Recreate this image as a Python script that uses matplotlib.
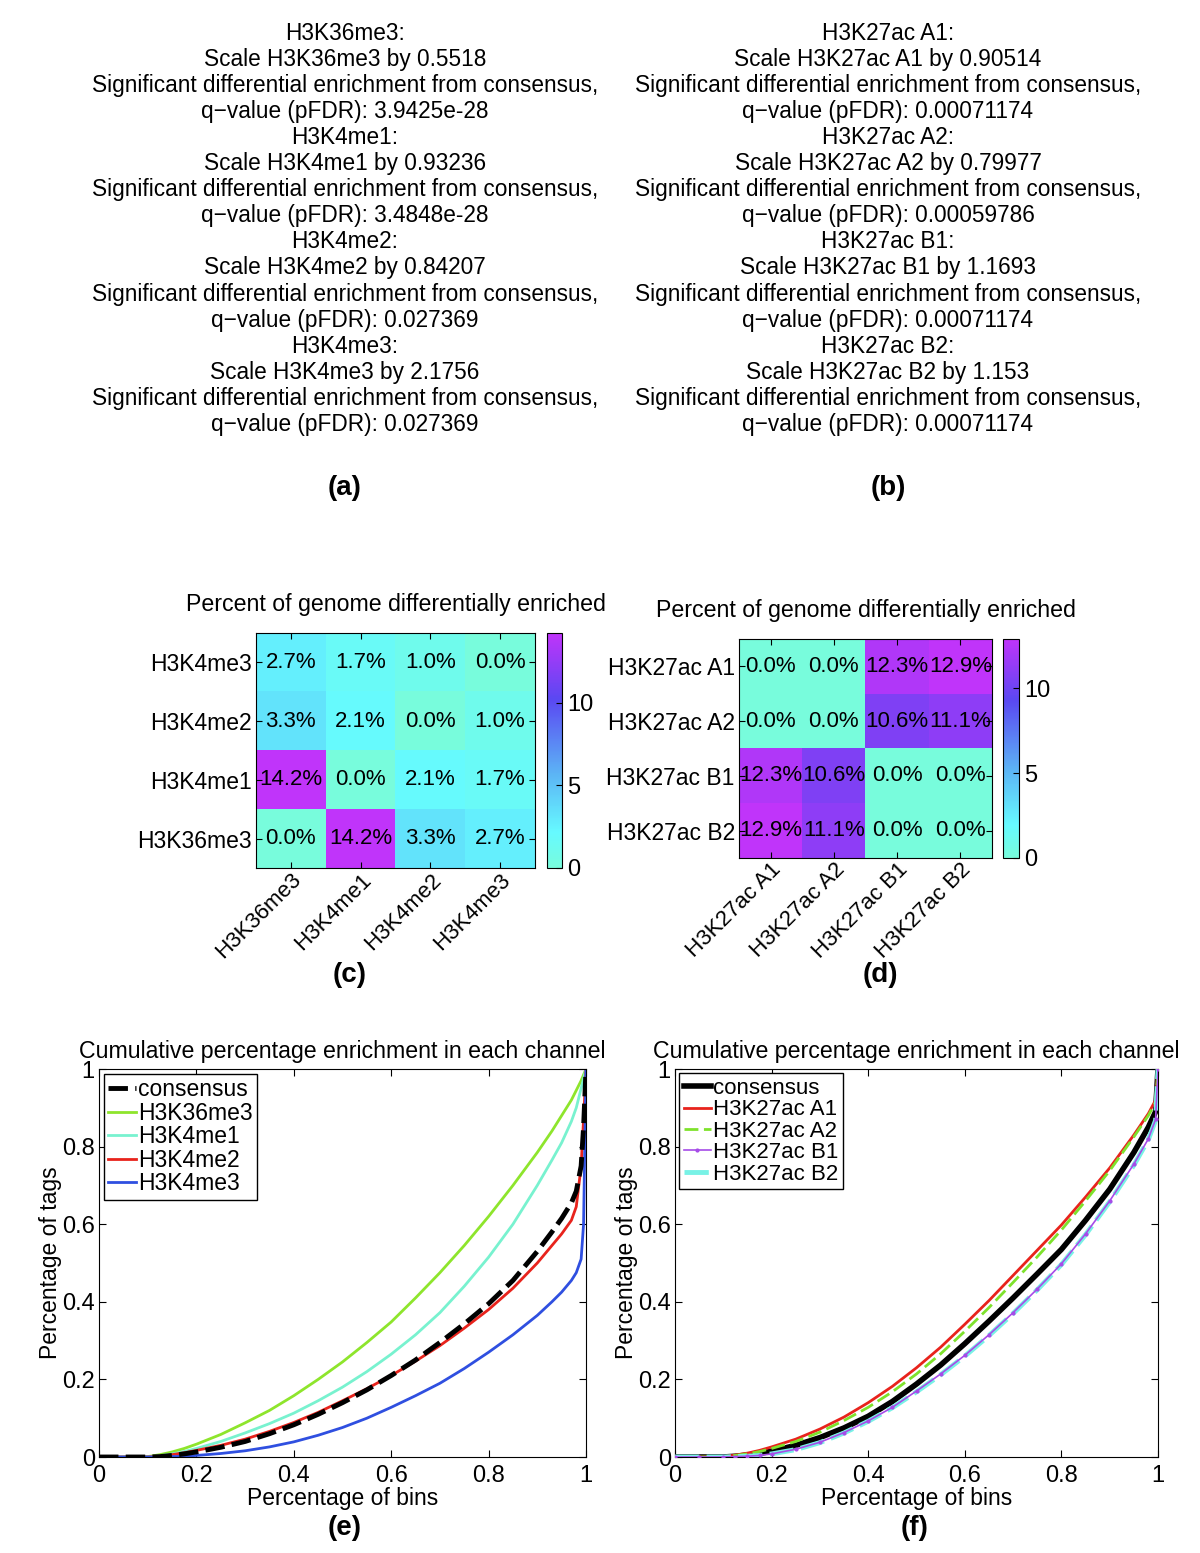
import numpy as np
import matplotlib
matplotlib.use('Agg')
import matplotlib.pyplot as plt
from matplotlib.colors import LinearSegmentedColormap

plt.rcParams['font.family'] = ['Liberation Sans', 'DejaVu Sans']

W, H = 1200, 1553

# ---- text panels (a), (b) ----
text_a = [
    'H3K36me3:', 'Scale H3K36me3 by 0.5518',
    'Significant differential enrichment from consensus,', 'q\u2212value (pFDR): 3.9425e-28',
    'H3K4me1:', 'Scale H3K4me1 by 0.93236',
    'Significant differential enrichment from consensus,', 'q\u2212value (pFDR): 3.4848e-28',
    'H3K4me2:', 'Scale H3K4me2 by 0.84207',
    'Significant differential enrichment from consensus,', 'q\u2212value (pFDR): 0.027369',
    'H3K4me3:', 'Scale H3K4me3 by 2.1756',
    'Significant differential enrichment from consensus,', 'q\u2212value (pFDR): 0.027369',
]
text_b = [
    'H3K27ac A1:', 'Scale H3K27ac A1 by 0.90514',
    'Significant differential enrichment from consensus,', 'q\u2212value (pFDR): 0.00071174',
    'H3K27ac A2:', 'Scale H3K27ac A2 by 0.79977',
    'Significant differential enrichment from consensus,', 'q\u2212value (pFDR): 0.00059786',
    'H3K27ac B1:', 'Scale H3K27ac B1 by 1.1693',
    'Significant differential enrichment from consensus,', 'q\u2212value (pFDR): 0.00071174',
    'H3K27ac B2:', 'Scale H3K27ac B2 by 1.153',
    'Significant differential enrichment from consensus,', 'q\u2212value (pFDR): 0.00071174',
]

# ---- heatmaps (c), (d) ----
c_labels = ['H3K36me3', 'H3K4me1', 'H3K4me2', 'H3K4me3']
c_rows_top_down = ['H3K4me3', 'H3K4me2', 'H3K4me1', 'H3K36me3']
c_vals = [  # rows as displayed (top->bottom), cols as c_labels
    [2.7, 1.7, 1.0, 0.0],
    [3.3, 2.1, 0.0, 1.0],
    [14.2, 0.0, 2.1, 1.7],
    [0.0, 14.2, 3.3, 2.7],
]
d_labels = ['H3K27ac A1', 'H3K27ac A2', 'H3K27ac B1', 'H3K27ac B2']
d_vals = [
    [0.0, 0.0, 12.3, 12.9],
    [0.0, 0.0, 10.6, 11.1],
    [12.3, 10.6, 0.0, 0.0],
    [12.9, 11.1, 0.0, 0.0],
]

# ---- cumulative curves (e) ----
x_e = [0, 0.05, 0.1, 0.125, 0.15, 0.175, 0.2, 0.25, 0.3, 0.35, 0.4, 0.45, 0.5, 0.55, 0.6,
       0.65, 0.7, 0.75, 0.8, 0.85, 0.9, 0.93, 0.95, 0.97, 0.98, 0.99, 0.995, 1.0]
e_consensus = [0, 0, 0, 0.001, 0.004, 0.008, 0.013, 0.025, 0.04, 0.06, 0.083, 0.11, 0.14, 0.173,
               0.21, 0.25, 0.295, 0.343, 0.395, 0.455, 0.53, 0.58, 0.615, 0.655, 0.685, 0.75, 0.85, 1.0]
e_k36me3 = [0, 0, 0.001, 0.006, 0.013, 0.022, 0.033, 0.058, 0.088, 0.12, 0.158, 0.2, 0.245, 0.295,
            0.348, 0.41, 0.475, 0.545, 0.62, 0.70, 0.785, 0.84, 0.88, 0.92, 0.945, 0.97, 0.985, 1.0]
e_k4me1 = [0, 0, 0, 0.003, 0.008, 0.014, 0.022, 0.04, 0.062, 0.086, 0.113, 0.145, 0.18, 0.22,
           0.265, 0.315, 0.372, 0.44, 0.515, 0.60, 0.70, 0.765, 0.81, 0.865, 0.9, 0.95, 0.975, 1.0]
e_k4me2 = [0, 0, 0, 0.002, 0.006, 0.011, 0.017, 0.03, 0.046, 0.066, 0.089, 0.115, 0.145, 0.176,
           0.21, 0.247, 0.287, 0.332, 0.38, 0.435, 0.5, 0.545, 0.575, 0.61, 0.645, 0.75, 0.87, 1.0]
e_k4me3 = [0, 0, 0, 0, 0.001, 0.002, 0.004, 0.009, 0.016, 0.026, 0.039, 0.056, 0.076, 0.1,
           0.128, 0.158, 0.19, 0.228, 0.27, 0.315, 0.365, 0.4, 0.425, 0.455, 0.475, 0.51, 0.6, 1.0]

# ---- cumulative curves (f) ----
x_f = [0, 0.05, 0.1, 0.125, 0.15, 0.175, 0.2, 0.25, 0.3, 0.35, 0.4, 0.45, 0.5, 0.55, 0.6,
       0.65, 0.7, 0.75, 0.8, 0.85, 0.9, 0.95, 0.98, 0.995, 1.0]
f_consensus = [0, 0, 0, 0.002, 0.005, 0.009, 0.015, 0.03, 0.05, 0.075, 0.105, 0.143, 0.188, 0.237,
               0.292, 0.35, 0.41, 0.472, 0.535, 0.61, 0.69, 0.785, 0.85, 0.89, 1.0]
f_a1 = [0, 0, 0.001, 0.005, 0.01, 0.017, 0.026, 0.046, 0.072, 0.103, 0.14, 0.182, 0.23, 0.283,
        0.342, 0.403, 0.468, 0.533, 0.598, 0.67, 0.745, 0.83, 0.885, 0.92, 1.0]
f_a2 = [0, 0, 0.001, 0.004, 0.008, 0.014, 0.022, 0.04, 0.064, 0.094, 0.128, 0.168, 0.214, 0.266,
        0.324, 0.385, 0.45, 0.516, 0.585, 0.66, 0.738, 0.825, 0.88, 0.915, 1.0]
f_b1 = [0, 0, 0, 0.001, 0.002, 0.004, 0.008, 0.02, 0.038, 0.063, 0.093, 0.128, 0.17, 0.214,
        0.262, 0.315, 0.372, 0.433, 0.498, 0.575, 0.66, 0.755, 0.82, 0.87, 1.0]
f_b2 = [0, 0, 0, 0.001, 0.002, 0.004, 0.008, 0.019, 0.037, 0.062, 0.092, 0.127, 0.168, 0.212,
        0.26, 0.313, 0.37, 0.431, 0.496, 0.573, 0.658, 0.752, 0.818, 0.868, 1.0]

tick_vals = [0, 0.2, 0.4, 0.6, 0.8, 1]
tick_labels = ['0', '0.2', '0.4', '0.6', '0.8', '1']

cmap = LinearSegmentedColormap.from_list('cyanpurple', [
    (0.0, '#78fcdc'), (0.15, '#66faff'), (0.4, '#5cb4f5'),
    (0.72, '#5a48f2'), (1.0, '#c034fa')])


def rect(x0, y0, x1, y1):
    # pixel box (top-left origin) -> figure fraction
    return [x0 / W, 1 - y1 / H, (x1 - x0) / W, (y1 - y0) / H]


fig = plt.figure(figsize=(W / 100, H / 100), dpi=100)


def ftext(x, y, s, **kw):
    fig.text(x / W, 1 - y / H, s, ha='center', va='center', **kw)


# text blocks
for i, line in enumerate(text_a):
    ftext(345, 33 + i * 26.1, line, fontsize=16.3)
for i, line in enumerate(text_b):
    ftext(888, 33 + i * 26.1, line, fontsize=16.3)
ftext(345, 488, '(a)', fontsize=20, fontweight='bold')
ftext(888, 488, '(b)', fontsize=20, fontweight='bold')


def heatmap(box, cbox, vals, ylabels, xlabels):
    ax = fig.add_axes(rect(*box))
    m = np.array(vals)
    im = ax.imshow(m, cmap=cmap, vmin=0, vmax=m.max(), aspect='auto',
                   interpolation='nearest')
    for r in range(m.shape[0]):
        for c in range(m.shape[1]):
            ax.text(c, r, f'{m[r, c]:.1f}%', ha='center', va='center', fontsize=16)
    ax.set_xticks(range(len(xlabels)))
    ax.set_xticklabels(xlabels, rotation=45, ha='right', rotation_mode='anchor', fontsize=16)
    ax.set_yticks(range(len(ylabels)))
    ax.set_yticklabels(ylabels, fontsize=16.5)
    ax.tick_params(direction='in', length=4, top=True, right=True, pad=3)
    ax.tick_params(axis='x', pad=1)
    ax.set_title('Percent of genome differentially enriched', fontsize=16.7, pad=16)
    cax = fig.add_axes(rect(*cbox))
    cb = fig.colorbar(im, cax=cax, ticks=[0, 5, 10])
    cb.ax.tick_params(direction='in', length=4, labelsize=17)
    cb.outline.set_linewidth(0.8)
    return ax


heatmap((256, 633, 535, 868), (547, 633, 562, 868), c_vals, c_rows_top_down, c_labels)
heatmap((739, 639, 992, 858), (1003, 639, 1019, 858), d_vals, d_labels, d_labels)
ftext(350, 975, '(c)', fontsize=20, fontweight='bold')
ftext(880, 975, '(d)', fontsize=20, fontweight='bold')


def curves(box, series, legsize):
    ax = fig.add_axes(rect(*box))
    for xs, ys, lab, kw in series:
        ax.plot(xs, ys, label=lab, **kw)
    ax.set_xlim(0, 1)
    ax.set_ylim(0, 1)
    ax.set_xticks(tick_vals)
    ax.set_xticklabels(tick_labels, fontsize=17)
    ax.set_yticks(tick_vals)
    ax.set_yticklabels(tick_labels, fontsize=17)
    ax.tick_params(direction='in', length=5, top=True, right=True)
    ax.tick_params(axis='x', pad=6)
    ax.tick_params(axis='y', pad=3)
    ax.set_xlabel('Percentage of bins', fontsize=16.5, labelpad=0)
    ax.set_ylabel('Percentage of tags', fontsize=16.5, labelpad=0)
    ax.set_title('Cumulative percentage enrichment in each channel', fontsize=16.7, pad=8)
    leg = ax.legend(loc='upper left', fontsize=legsize, handlelength=1.2, handletextpad=0.1,
                    borderaxespad=0.2, borderpad=0.2, labelspacing=0.02, fancybox=False,
                    framealpha=1)
    leg.get_frame().set_edgecolor('black')
    leg.get_frame().set_linewidth(1.0)
    return ax


curves((99, 1069, 586, 1457), [
    (x_e, e_consensus, 'consensus', dict(color='black', lw=3.5, ls=(0, (4, 1.5)), zorder=3)),
    (x_e, e_k36me3, 'H3K36me3', dict(color='#8ee52c', lw=2.0)),
    (x_e, e_k4me1, 'H3K4me1', dict(color='#78f2cf', lw=2.0)),
    (x_e, e_k4me2, 'H3K4me2', dict(color='#e8231c', lw=2.0)),
    (x_e, e_k4me3, 'H3K4me3', dict(color='#2f4fe0', lw=2.0)),
], 16.5)
curves((675, 1069, 1158, 1457), [
    (x_f, f_consensus, 'consensus', dict(color='black', lw=4)),
    (x_f, f_a1, 'H3K27ac A1', dict(color='#e8231c', lw=2.0)),
    (x_f, f_a2, 'H3K27ac A2', dict(color='#7ee22c', lw=2.0, ls=(0, (5, 2)))),
    (x_f, f_b1, 'H3K27ac B1', dict(color='#a64be8', lw=1.2, marker='.', ms=4, zorder=4)),
    (x_f, f_b2, 'H3K27ac B2', dict(color='#78f2e6', lw=3.5, ls=(0, (5, 1.5)), zorder=3)),
], 16)
ftext(345, 1528, '(e)', fontsize=20, fontweight='bold')
ftext(915, 1528, '(f)', fontsize=20, fontweight='bold')

fig.savefig('out.png', dpi=100)
